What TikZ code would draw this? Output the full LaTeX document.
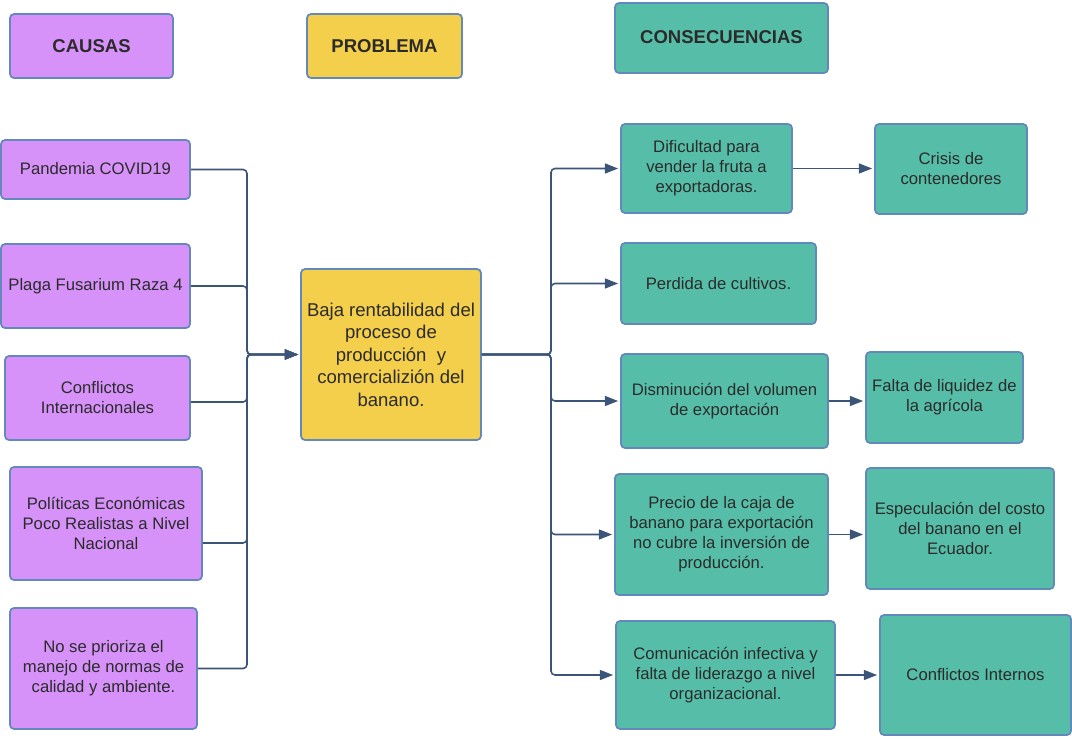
\documentclass[tikz,border=0pt]{standalone}
\usepackage{fontspec}
\setmainfont{Liberation Sans}
\usetikzlibrary{arrows.meta,calc}
\definecolor{causefill}{HTML}{D692F9}
\definecolor{probfill}{HTML}{F4CF4B}
\definecolor{consfill}{HTML}{56BEA8}
\definecolor{boxline}{HTML}{6388BC}
\definecolor{linkcol}{HTML}{3B5578}
\definecolor{txt}{HTML}{2B2B2B}
\begin{document}
\begin{tikzpicture}[x=0.75pt,y=-0.75pt,
  sz/.style 2 args={minimum width=#1*0.75pt,minimum height=#2*0.75pt},
  card/.style={draw=boxline,line width=1.3pt,rounded corners=3pt,align=center,
    inner sep=0pt,text=txt,font=\fontsize{12.5}{15}\selectfont},
  cause/.style={card,fill=causefill},
  prob/.style={card,fill=probfill},
  cons/.style={card,fill=consfill},
  head/.style={font=\fontsize{13.9}{16}\selectfont\bfseries},
  link/.style={draw=linkcol,line width=1.2pt,rounded corners=3pt},
  arr/.style={link,shorten >=1.5pt,-{Triangle[length=10pt,width=7.5pt]}}]
\useasboundingbox (0,0) rectangle (1072,739);

% column headings
\node[cause,head,sz={163}{64}] (hc) at (91.5,46) {CAUSAS};
\node[prob,head,sz={155}{64}] (hp) at (384.5,46) {PROBLEMA};
\node[cons,head,sz={213}{70}] (hk) at (721.5,38) {\raisebox{2pt}{CONSECUENCIAS}};

% causes
\node[cause,sz={189}{59}] (c1) at (95.5,169.5) {\raisebox{1.5pt}{Pandemia COVID19}};
\node[cause,sz={189}{84}] (c2) at (95.5,286) {Plaga Fusarium Raza 4};
\node[cause,sz={185}{84}] (c3) at (97.5,398) {Conflictos\\Internacionales};
\node[cause,sz={192}{113}] (c4) at (106,523.5) {Políticas Económicas\\Poco Realistas a Nivel\\Nacional};
\node[cause,sz={187}{121}] (c5) at (103.5,668.5) {No se prioriza el\\manejo de normas de\\calidad y ambiente.};

% central problem
\node[prob,sz={180}{171},font=\fontsize{13.9}{16.9}\selectfont] (p) at (391,354.5)
  {Baja rentabilidad del\\proceso de\\producción\ \ y\\comercializión del\\banano.};

% consequences
\node[cons,sz={171}{89}] (k1) at (706.5,168.5) {Dificultad para\\vender la fruta a\\exportadoras.};
\node[cons,sz={195}{81}] (k2) at (718.5,283.5) {Perdida de cultivos.};
\node[cons,sz={207}{94}] (k3) at (724.5,401) {Disminución del volumen\\de exportación};
\node[cons,sz={213}{121}] (k4) at (721.5,534.5) {Precio de la caja de\\banano para exportación\\no cubre la inversión de\\producción.};
\node[cons,sz={219}{108}] (k5) at (725.5,675) {Comunicación infectiva y\\falta de liderazgo a nivel\\organizacional.};

% further effects
\node[cons,sz={152}{90}] (e1) at (951,169) {Crisis de\\contenedores};
\node[cons,sz={157}{91}] (e3) at (944.5,397.5) {Falta de liquidez de\\la agrícola};
\node[cons,sz={188}{121}] (e4) at (960,528.5) {Especulación del costo\\del banano en el\\Ecuador.};
\node[cons,sz={191}{120}] (e5) at (975.5,675) {Conflictos Internos};

% causes feed into the problem
\coordinate (lb) at (247,354.5);
\draw[arr] (c1.east) -| (lb) -- (p.west);
\draw[arr] (c2.east) -| (lb) -- (p.west);
\draw[arr] ($(c3.east)+(0,4)$) -| (lb) -- (p.west);
\draw[arr] ($(c4.east)+(0,19.5)$) -| (lb) -- (p.west);
\draw[arr] (c5.east) -| (lb) -- (p.west);

% problem leads to consequences
\coordinate (rb) at (551,354.5);
\draw[arr] (p.east) -- (rb) |- (k1.west);
\draw[arr] (p.east) -- (rb) |- (k2.west);
\draw[arr] (p.east) -- (rb) |- (k3.west);
\draw[arr] (p.east) -- (rb) |- (k4.west);
\draw[arr] (p.east) -- (rb) |- (k5.west);

% consequences lead to further effects
\draw[arr] (k1.east) -- (k1.east -| e1.west);
\draw[arr] (k3.east) -- (k3.east -| e3.west);
\draw[arr] (k4.east) -- (k4.east -| e4.west);
\draw[arr] (k5.east) -- (k5.east -| e5.west);
\end{tikzpicture}
\end{document}
